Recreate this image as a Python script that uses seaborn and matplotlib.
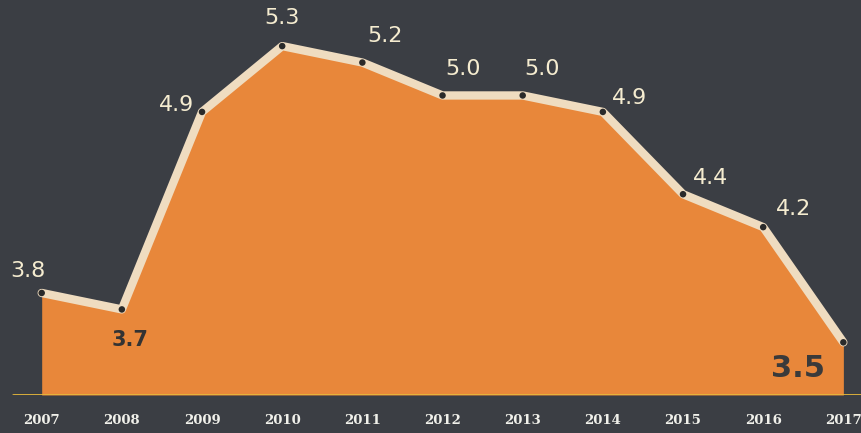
import matplotlib.pyplot as plt
import pandas as pd
import seaborn as sns

years = [2007, 2008, 2009, 2010, 2011, 2012, 2013, 2014, 2015, 2016, 2017]
rates = [3.8, 3.7, 4.9, 5.3, 5.2, 5.0, 5.0, 4.9, 4.4, 4.2, 3.5]
# label offsets (points) so the numbers sit where the original has them
offsets = [(-10, 16), (6, -22), (-18, 5), (0, 20), (16, 19), (15, 19),
           (14, 19), (19, 10), (20, 12), (22, 13), (-33, -19)]

df = pd.DataFrame({"Year": years, "Rate": rates})

bg = "#3b3e44"
sns.set_style("dark")
fig = plt.figure(figsize=(8.61, 4.33), dpi=100, facecolor=bg)
ax = fig.add_axes([0, 38 / 433, 1, 395 / 433])
ax.set_facecolor(bg)

ymin = 3.18
ax.fill_between(df["Year"], df["Rate"], ymin, color="#e8873a", zorder=1, lw=0)
sns.lineplot(data=df, x="Year", y="Rate", ax=ax, color="#efdcc0", lw=6,
             zorder=3, solid_joinstyle="round", solid_capstyle="round")
sns.scatterplot(data=df, x="Year", y="Rate", ax=ax, color="#2a2a2a", s=22,
                zorder=4, edgecolor="none")
ax.axhline(ymin, color="#e6b83a", lw=2, zorder=2, xmin=0.015)

for i, (yr, v) in enumerate(zip(years, rates)):
    dx, dy = offsets[i]
    if i == 1:
        ax.annotate(f"{v:.1f}", (yr, v), xytext=(dx, dy), textcoords="offset points",
                    ha="center", va="center", fontsize=15, fontweight="bold",
                    color="#333333", zorder=5)
    elif i == len(years) - 1:
        ax.annotate(f"{v:.1f}", (yr, v), xytext=(dx, dy), textcoords="offset points",
                    ha="center", va="center", fontsize=22, fontweight="bold",
                    color="#3a3a3a", zorder=5)
    else:
        ax.annotate(f"{v:.1f}", (yr, v), xytext=(dx, dy), textcoords="offset points",
                    ha="center", va="center", fontsize=16, color="#f5ecd0", zorder=5)

ax.set_xlim(2006.48, 2017.22)
ax.set_ylim(ymin, 5.58)
ax.set_xticks(years)
ax.set_xticklabels([str(y) for y in years], fontsize=9.5, color="#f0f0ea",
                   family="DejaVu Serif", fontweight="bold")
ax.tick_params(axis="x", length=0, pad=14)
ax.set_yticks([])
ax.set_xlabel("")
ax.set_ylabel("")
ax.grid(False)
for s in ax.spines.values():
    s.set_visible(False)

fig.savefig("out.png", dpi=100, facecolor=bg)
